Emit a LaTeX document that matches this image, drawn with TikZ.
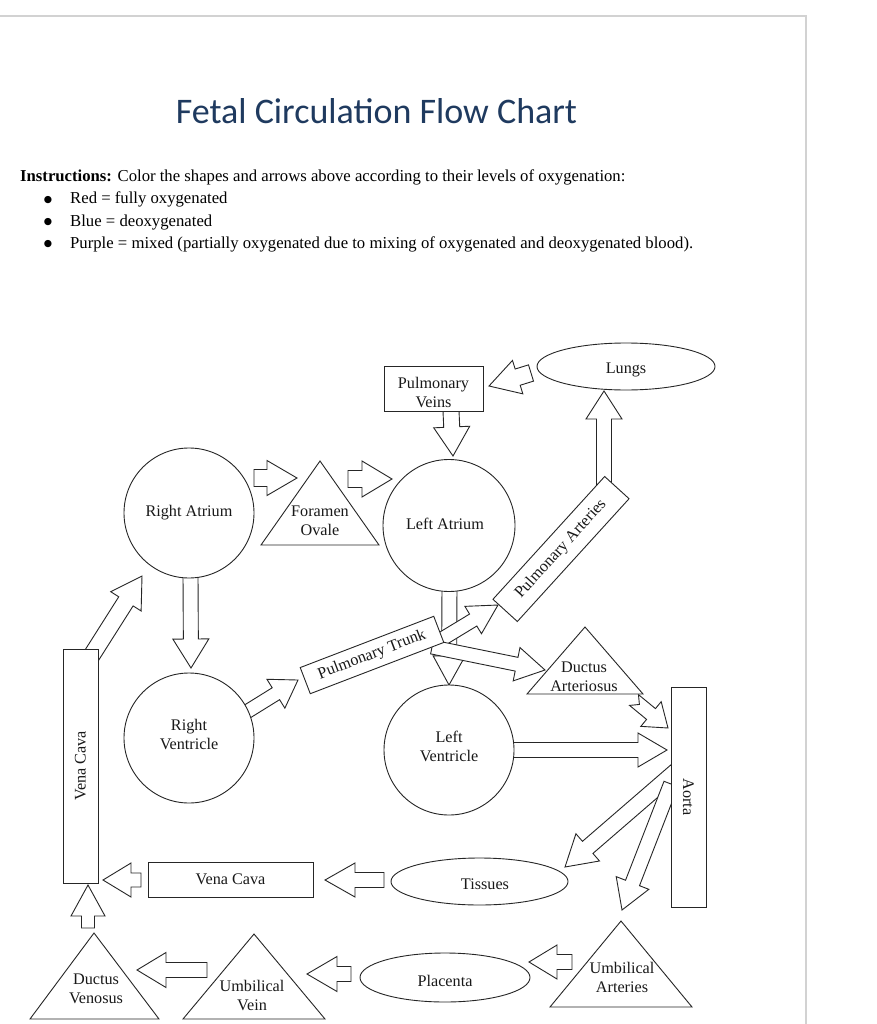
\documentclass[tikz,border=0pt]{standalone}
\usepackage{fontspec}
\setmainfont{Liberation Serif}
\newfontfamily\titlefont{Carlito}
\newfontfamily\symfont{DejaVu Sans}
\usetikzlibrary{shapes.geometric}
\definecolor{titleblue}{HTML}{1F3A5F}
\definecolor{pageline}{HTML}{D2D2D2}
\newcommand\dfont{\fontsize{16.2}{19}\selectfont}
\newcommand\ifont{\fontsize{16.7}{22}\selectfont}
\makeatletter
% \barrow[notch]{tail}{tip}{shaft width}{head width}{head length}
\newcommand\barrow[6][0]{%
  \pgfpointdiff{\pgfpointanchor{#2}{center}}{\pgfpointanchor{#3}{center}}%
  \edef\bardx{\the\pgf@x}\edef\bardy{\the\pgf@y}%
  \pgfmathsetmacro\barlen{veclen(\bardx,\bardy)}%
  \pgfmathsetmacro\barang{atan2(\bardy,\bardx)}%
  \begin{scope}[shift={(#2)},rotate=\barang,x=1pt,y=1pt]
    \draw[blockarrow] (0,{-#4/2}) -- ({\barlen-#6},{-#4/2}) -- ({\barlen-#6},{-#5/2})
      -- (\barlen,0) -- ({\barlen-#6},{#5/2}) -- ({\barlen-#6},{#4/2}) -- (0,{#4/2})
      -- (#1,0) -- cycle;
  \end{scope}}
\makeatother
\begin{document}
\begin{tikzpicture}[x=1pt,y=-1pt,
  blockarrow/.style={draw=black!85,line width=0.9pt,fill=white,line join=miter},
  shapeline/.style={draw=black!85,line width=0.9pt,fill=white},
  lbl/.style={font=\dfont,align=center,inner sep=0pt,text=black!90},
  circnode/.style={shapeline,circle,minimum size=130pt,inner sep=0pt},
  boxnode/.style={shapeline,rectangle,inner sep=0pt,font=\dfont,align=center,text=black!90},
  ellnode/.style={shapeline,ellipse,inner sep=0pt},
  bodytext/.style={font=\ifont,anchor=base west,inner sep=0pt}]
\useasboundingbox (0,0) rectangle (876,1024);
\fill[white] (0,0) rectangle (876,1024);
\draw[pageline,line width=1.2pt] (0,16) -- (806,16) -- (806,1024);

% ---- title and instructions
\node[font=\titlefont\fontsize{36}{40}\selectfont,text=titleblue,anchor=base,inner sep=0pt] (title) at (376.5,124) {Fetal Circulation Flow Chart};
\node[bodytext] (instr) at (20,182) {\textbf{Instructions:} Color the shapes and arrows above according to their levels of oxygenation:};
\node[bodytext] (b1) at (70,204) {Red = fully oxygenated};
\node[bodytext] (b2) at (70,226) {Blue = deoxygenated};
\node[bodytext] (b3) at (70,248) {Purple = mixed (partially oxygenated due to mixing of oxygenated and deoxygenated blood).};
\foreach \yy/\nm in {204/d1,226/d2,248/d3}
  \node[font=\symfont\fontsize{9.5}{10}\selectfont,anchor=base,inner sep=0pt] (\nm) at (48,\yy-1) {●};

% ---- arrow end points
\coordinate (lupv-a) at (531,373);  \coordinate (lupv-b) at (489,386);
\coordinate (pvla-a) at (451,411);  \coordinate (pvla-b) at (453,456);
\coordinate (rafo-a) at (254,478);  \coordinate (rafo-b) at (297,478);
\coordinate (fola-a) at (348,479);  \coordinate (fola-b) at (392,479);
\coordinate (rarv-a) at (190.5,575); \coordinate (rarv-b) at (191,668);
\coordinate (vcra-a) at (90,658);   \coordinate (vcra-b) at (142,576);
\coordinate (rvpt-a) at (240,716);  \coordinate (rvpt-b) at (298,680);
\coordinate (lalv-a) at (449.5,585); \coordinate (lalv-b) at (449,685);
\coordinate (ptpa-a) at (432,645);  \coordinate (ptpa-b) at (498,605);
\coordinate (ptda-a) at (432,647);  \coordinate (ptda-b) at (545,670);
\coordinate (palu-a) at (604,505);  \coordinate (palu-b) at (604,391);
\coordinate (daao-a) at (634,700);  \coordinate (daao-b) at (668,728);
\coordinate (lvao-a) at (505,750);  \coordinate (lvao-b) at (667,750);
\coordinate (aoti-a) at (676,771);  \coordinate (aoti-b) at (565,867);
\coordinate (aoua-a) at (671,784);  \coordinate (aoua-b) at (622,910);
\coordinate (tivc-a) at (384,880);  \coordinate (tivc-b) at (325,880);
\coordinate (vcvc-a) at (141,880);  \coordinate (vcvc-b) at (103,880);
\coordinate (dvvc-a) at (88,928);   \coordinate (dvvc-b) at (88,885);
\coordinate (uvdv-a) at (207,970);  \coordinate (uvdv-b) at (137,970);
\coordinate (pluv-a) at (351,974);  \coordinate (pluv-b) at (307,974);
\coordinate (uapl-a) at (572,962);  \coordinate (uapl-b) at (529,962);

% ---- block arrows (drawn first, shapes cover their tails)
\barrow{lupv-a}{lupv-b}{17}{35}{30}
\barrow{pvla-a}{pvla-b}{16}{36}{29}
\barrow{rafo-a}{rafo-b}{17}{35}{30}
\barrow{fola-a}{fola-b}{17}{36}{30}
\barrow{rarv-a}{rarv-b}{15}{36}{29}
\barrow{vcra-a}{vcra-b}{17}{36}{30}
\barrow{rvpt-a}{rvpt-b}{14}{34}{26}
\barrow{lalv-a}{lalv-b}{15}{32}{29}
\barrow{ptpa-a}{ptpa-b}{14}{32}{29}
\barrow{ptda-a}{ptda-b}{14}{34}{29}
\barrow{palu-a}{palu-b}{15}{36}{28}
\barrow[7]{daao-a}{daao-b}{14}{32}{22}
\barrow{lvao-a}{lvao-b}{15}{34}{29}
\barrow{aoti-a}{aoti-b}{16}{36}{30}
\barrow{aoua-a}{aoua-b}{15}{35}{29}
\barrow{tivc-a}{tivc-b}{15}{34}{30}
\barrow{vcvc-a}{vcvc-b}{14}{34}{28}
\barrow{dvvc-a}{dvvc-b}{13}{34}{31}
\barrow{uvdv-a}{uvdv-b}{15}{35}{29}
\barrow{pluv-a}{pluv-b}{15}{35}{30}
\barrow{uapl-a}{uapl-b}{15}{34}{28}

% ---- circles
\node[circnode] (ra) at (189,513) {};
\node[circnode,minimum size=132pt] (la) at (449,525.5) {};
\node[circnode] (rv) at (189,738) {};
\node[circnode] (lv) at (449,750) {};
\node[lbl] (ra-t) at (189,513) {Right Atrium};
\node[lbl] (la-t) at (445,524) {Left Atrium};
\node[lbl] (rv-t) at (189,734) {Right\\Ventricle};
\node[lbl] (lv-t) at (449,746) {Left\\Ventricle};

% ---- rectangles
\node[boxnode,minimum width=99pt,minimum height=45pt] (pv) at (433.5,388.5) {};
\node[lbl] (pv-t) at (433.5,392) {Pulmonary\\Veins};
\node[boxnode,rotate=21,minimum width=143pt,minimum height=28pt] (pt) at (372,655) {Pulmonary Trunk};
\node[boxnode,rotate=47.7,minimum width=166pt,minimum height=33pt] (pa) at (561,549) {Pulmonary Arteries};
\node[boxnode,rotate=90,minimum width=234pt,minimum height=35pt] (vcv) at (80.5,766) {Vena Cava};
\node[boxnode,rotate=-90,minimum width=220pt,minimum height=35pt] (ao) at (688.5,797) {Aorta};
\node[boxnode,minimum width=165pt,minimum height=35pt] (vch) at (230.5,879.5) {Vena Cava};

% ---- ellipses
\node[ellnode,minimum width=178pt,minimum height=47pt] (lu) at (626,366.5) {};
\node[ellnode,minimum width=177pt,minimum height=47pt] (ti) at (479.5,881.5) {};
\node[ellnode,minimum width=170pt,minimum height=49pt] (pl) at (445,977.5) {};
\node[lbl] (lu-t) at (626,370) {Lungs};
\node[lbl] (ti-t) at (485,884) {Tissues};
\node[lbl] (pl-t) at (445,981) {Placenta};

% ---- triangles
\coordinate (fo-a) at (320,461); \coordinate (fo-l) at (261,545); \coordinate (fo-r) at (379,545);
\coordinate (da-a) at (585,627); \coordinate (da-l) at (527,694); \coordinate (da-r) at (643,694);
\coordinate (dv-a) at (94,933);  \coordinate (dv-l) at (30,1019); \coordinate (dv-r) at (159,1019);
\coordinate (uv-a) at (254,934); \coordinate (uv-l) at (183,1019); \coordinate (uv-r) at (325,1019);
\coordinate (ua-a) at (621,921); \coordinate (ua-l) at (550,1007); \coordinate (ua-r) at (692,1007);
\foreach \tr in {fo,da,dv,uv,ua}
  \draw[shapeline] (\tr-a) -- (\tr-l) -- (\tr-r) -- cycle;
\node[lbl] (fo) at (320,521) {Foramen\\Ovale};
\node[lbl] (da) at (584,677) {Ductus\\Arteriosus};
\node[lbl] (dv) at (96,989) {Ductus\\Venosus};
\node[lbl] (uv) at (252,995) {Umbilical\\Vein};
\node[lbl] (ua) at (622,977) {Umbilical\\Arteries};
\end{tikzpicture}
\end{document}
